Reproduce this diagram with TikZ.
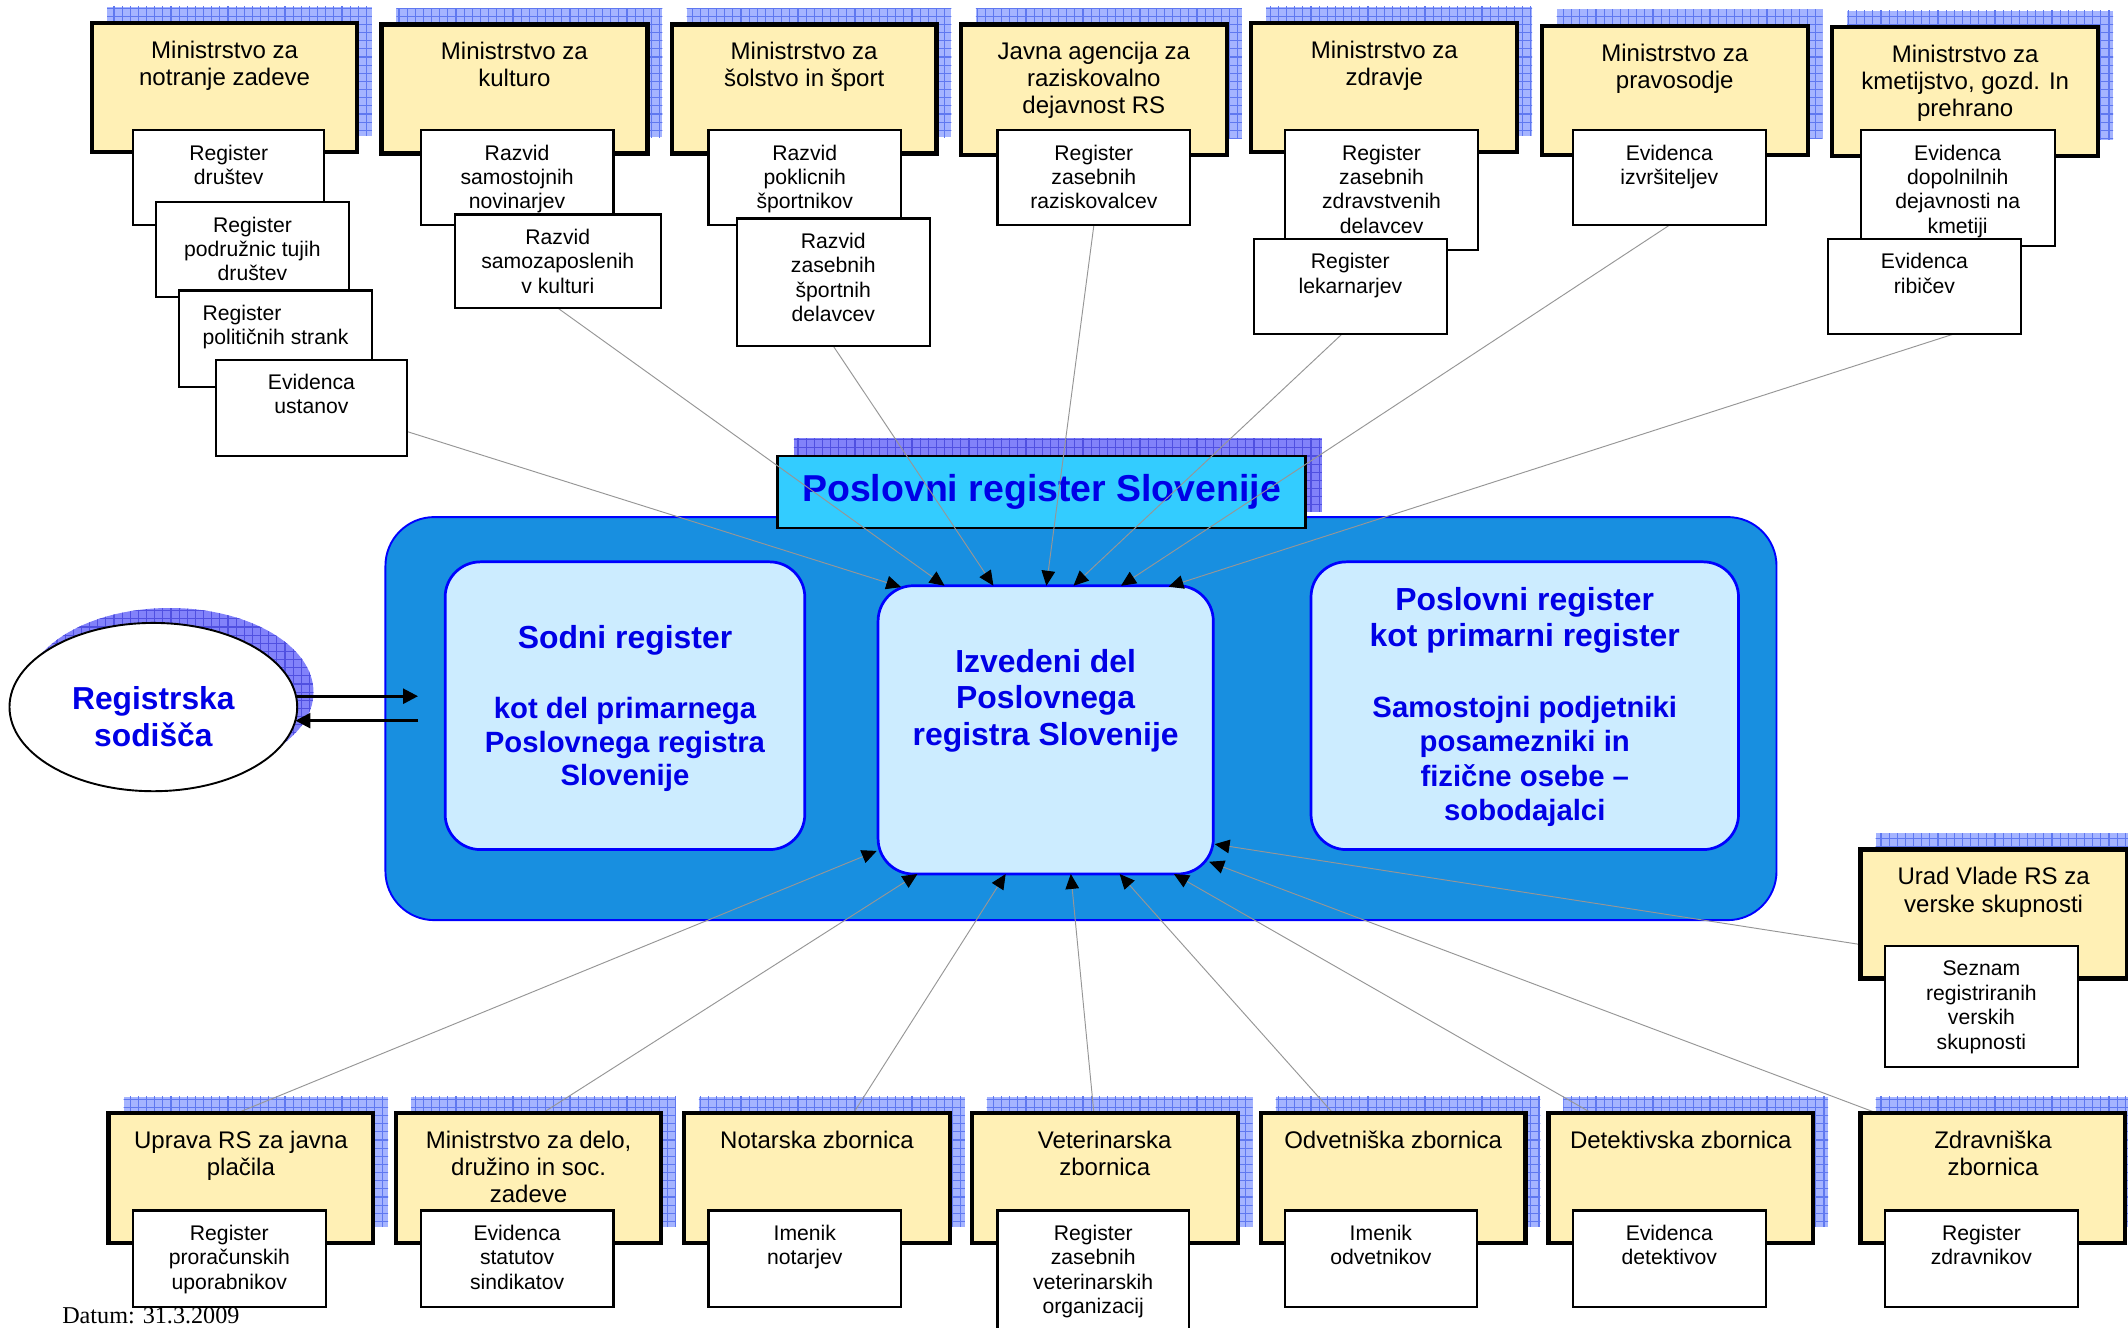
\documentclass[tikz,border=0pt]{standalone}
\usepackage{fontspec}
\setmainfont{Liberation Sans}
\newfontfamily\datefont{Liberation Serif}
\usetikzlibrary{shapes.geometric,arrows.meta,patterns,calc}
\definecolor{yfill}{RGB}{255,240,181}
\definecolor{shfill}{RGB}{165,180,255}
\definecolor{shgrid}{RGB}{95,120,240}
\definecolor{shfillB}{RGB}{130,130,250}
\definecolor{shgridB}{RGB}{80,80,225}
\definecolor{bigblue}{RGB}{24,143,224}
\definecolor{innerfill}{RGB}{204,236,255}
\definecolor{titlefill}{RGB}{51,204,255}
\definecolor{bordblue}{RGB}{0,0,255}
\definecolor{txtblue}{RGB}{0,0,230}
\definecolor{conngray}{RGB}{150,150,150}
\pgfdeclarelayer{back}
\pgfdeclarelayer{mid}
\pgfsetlayers{back,mid,main}
\tikzset{
  orgshadow/.style={preaction={fill=shfill},pattern=grid,pattern color=shgrid},
  bigshadow/.style={preaction={fill=shfillB},pattern=grid,pattern color=shgridB},
  ybox/.style={draw=black,line width=1.6pt,fill=yfill,inner sep=0pt,outer sep=0pt,
    font=\fontsize{8.85pt}{10pt}\selectfont},
  sbox/.style={draw=black,line width=0.8pt,fill=white,inner sep=0pt,outer sep=0pt,
    font=\fontsize{7.8pt}{9pt}\selectfont},
  bigbox/.style={draw=bordblue,line width=0.7pt,fill=bigblue,rounded corners=18pt,
    inner sep=0pt,outer sep=0pt,minimum width=512.5pt,minimum height=148.5pt},
  innerbox/.style={draw=bordblue,line width=1pt,fill=innerfill,rounded corners=13pt,
    inner sep=0pt,outer sep=0pt,text=txtblue,font=\bfseries},
  titlebox/.style={draw=black,line width=1pt,fill=titlefill,inner sep=0pt,outer sep=0pt,
    minimum width=194.5pt,minimum height=26.5pt,text=txtblue,
    font=\bfseries\fontsize{13.8pt}{15pt}\selectfont},
  rsell/.style={draw=black,line width=0.7pt,fill=white,ellipse,inner sep=0pt,
    minimum width=106pt,minimum height=62pt},
  rstext/.style={align=center,text=txtblue,inner sep=0pt,
    font=\bfseries\fontsize{11.7pt}{13.75pt}\selectfont},
  conn/.style={draw=conngray,line width=0.35pt,
    -{Triangle[length=5.5pt,width=5pt,color=black]}},
  thickarrow/.style={draw=black,line width=1pt,-{Triangle[length=5.5pt,width=5.5pt]}},
  datestyle/.style={inner sep=0pt,font=\datefont\fontsize{8.9pt}{10pt}\selectfont}
}
\newcommand\OrgBox[6]{%
  \begin{pgfonlayer}{back}
    \path[orgshadow] (#2+11,#3-12) rectangle (#4+11,#5-12);
  \end{pgfonlayer}
  \node[ybox] (#1) at ({(#2+#4)/2},{(#3+#5)/2})
   {\begin{minipage}[c][\dimexpr(#5pt-#3pt)/2\relax][t]{\dimexpr(#4pt-#2pt)/2\relax}\centering\vspace*{6pt}\strut #6\end{minipage}};
}
\newcommand\SubBox[6]{%
  \node[sbox] (#1) at ({(#2+#4)/2},{(#3+#5)/2})
   {\begin{minipage}[c][\dimexpr(#5pt-#3pt)/2\relax][t]{\dimexpr(#4pt-#2pt)/2\relax}\centering\vspace*{4.7pt}\strut #6\end{minipage}};
}
\begin{document}
\begin{tikzpicture}[x=0.5pt,y=-0.5pt]
\useasboundingbox (0,0) rectangle (1568,978);

\begin{pgfonlayer}{back}
  \node[bigbox] (prs) at (796.5,529.5) {};
  \node[innerbox] (sodni) at (460.5,520)
   {\begin{minipage}[c][106pt][t]{132.5pt}\centering\vspace*{23.2pt}{\fontsize{11.75pt}{12.4pt}\selectfont\strut Sodni register\par}\vspace{13.4pt}{\fontsize{10.8pt}{12.4pt}\selectfont kot del primarnega\\Poslovnega registra\\Slovenije\par}\end{minipage}};
  \node[innerbox] (izv) at (770.5,537.8)
   {\begin{minipage}[c][106.2pt][t]{123.5pt}\centering\vspace*{22.6pt}{\fontsize{11.75pt}{13.4pt}\selectfont\strut Izvedeni del\\Poslovnega\\registra Slovenije\par}\end{minipage}};
  \node[innerbox] (pkp) at (1123.5,520)
   {\begin{minipage}[c][106pt][t]{157.5pt}\centering\vspace*{8.3pt}{\fontsize{11.75pt}{13.5pt}\selectfont\strut Poslovni register\\kot primarni register\par}\vspace{13.3pt}{\fontsize{10.8pt}{12.7pt}\selectfont Samostojni podjetniki\\posamezniki in\\fizične osebe –\\sobodajalci\par}\end{minipage}};
  \path[bigshadow] (585,323) rectangle (974,377);
  \node[titlebox] (title) at (767.5,362.5) {Poslovni register Slovenije};
  \path[bigshadow] (125,510) ellipse [x radius=53pt,y radius=31pt];
  \node[rsell] (rs) at (113,521) {};
  \node[rstext] (rslbl) at (113,528) {Registrska\\sodišča};
\end{pgfonlayer}

% top row
\OrgBox{Y1}{68}{17}{263}{112}{Ministrstvo za\\notranje zadeve}
\SubBox{S1a}{98}{96}{239}{166}{Register\\društev}
\SubBox{S1b}{115}{149}{257}{219}{Register\\podružnic tujih\\društev}
\SubBox{S1c}{132}{214}{274}{285}{\begin{tabular}[t]{@{}l@{}}Register\\političnih strank\end{tabular}}
\SubBox{S1d}{159}{265}{300}{336}{Evidenca\\ustanov}
\OrgBox{Y2}{281}{18}{477}{113}{Ministrstvo za\\kulturo}
\SubBox{S2a}{310}{96}{452}{166}{Razvid\\samostojnih\\novinarjev}
\SubBox{S2b}{335}{158}{487}{227}{Razvid\\samozaposlenih\\v kulturi}
\OrgBox{Y3}{495}{18}{690}{113}{Ministrstvo za\\šolstvo in šport}
\SubBox{S3a}{522}{96}{664}{166}{Razvid\\poklicnih\\športnikov}
\SubBox{S3b}{543}{161}{685}{255}{Razvid\\zasebnih\\športnih\\delavcev}
\OrgBox{Y4}{708}{18}{904}{114}{Javna agencija za\\raziskovalno\\dejavnost RS}
\SubBox{S4a}{735}{96}{877}{166}{Register\\zasebnih\\raziskovalcev}
\OrgBox{Y5}{922}{17}{1118}{112}{Ministrstvo za\\zdravje}
\SubBox{S5a}{947}{96}{1089}{184}{Register\\zasebnih\\zdravstvenih\\delavcev}
\SubBox{S5b}{924}{176}{1066}{246}{Register\\lekarnarjev}
\OrgBox{Y6}{1136}{19}{1332}{114}{Ministrstvo za\\pravosodje}
\SubBox{S6a}{1159}{96}{1301}{166}{Evidenca\\izvršiteljev}
\OrgBox{Y7}{1350}{20}{1546}{115}{Ministrstvo za\\kmetijstvo, gozd. In\\prehrano}
\SubBox{S7a}{1371}{96}{1514}{181}{Evidenca\\dopolnilnih\\dejavnosti na\\kmetiji}
\SubBox{S7b}{1347}{176}{1489}{246}{Evidenca\\ribičev}

% right
\OrgBox{U1}{1371}{626}{1567}{721}{Urad Vlade RS za\\verske skupnosti}
\SubBox{U1s}{1389}{697}{1531}{786}{Seznam\\registriranih\\verskih\\skupnosti}

% bottom row
\OrgBox{B1}{80}{820}{275}{916}{Uprava RS za javna\\plačila}
\SubBox{B1s}{98}{892}{240}{963}{Register\\proračunskih\\uporabnikov}
\OrgBox{B2}{292}{820}{487}{916}{Ministrstvo za delo,\\družino in soc.\\zadeve}
\SubBox{B2s}{310}{892}{452}{963}{Evidenca\\statutov\\sindikatov}
\OrgBox{B3}{504}{820}{700}{916}{Notarska zbornica}
\SubBox{B3s}{522}{892}{664}{963}{Imenik\\notarjev}
\OrgBox{B4}{716}{820}{912}{916}{Veterinarska\\zbornica}
\SubBox{B4s}{735}{892}{876}{990}{Register\\zasebnih\\veterinarskih\\organizacij}
\OrgBox{B5}{929}{820}{1124}{916}{Odvetniška zbornica}
\SubBox{B5s}{947}{892}{1088}{963}{Imenik\\odvetnikov}
\OrgBox{B6}{1141}{820}{1336}{916}{Detektivska zbornica}
\SubBox{B6s}{1159}{892}{1301}{963}{Evidenca\\detektivov}
\OrgBox{B7}{1371}{820}{1566}{916}{Zdravniška\\zbornica}
\SubBox{B7s}{1389}{892}{1531}{963}{Register\\zdravnikov}

\node[datestyle,anchor=base west] (datum) at (45.5,975.5) {Datum: 31.3.2009};

% arrow end points on the derived register
\coordinate (t1) at (664,432.6);
\coordinate (t2) at (696,431.6);
\coordinate (t3) at (732,431.6);
\coordinate (t4) at (771,431.6);
\coordinate (t5) at (791,431.6);
\coordinate (t6) at (826,431.6);
\coordinate (t7) at (861,432.3);
\coordinate (ba) at (646,627);
\coordinate (bb) at (676,644);
\coordinate (bc) at (741,644);
\coordinate (bd) at (789,644);
\coordinate (be) at (825,644);
\coordinate (bf) at (865,644);
\coordinate (bg) at (891,635);
\coordinate (bh) at (895,622);
\coordinate (rin1) at ($(prs.west)+(24,-16.5)$);
\coordinate (rin2) at ($(prs.west)+(24,1.5)$);

\begin{pgfonlayer}{mid}
  \draw[conn] ($(S1d.east)+(0,17.5)$) -- (t1);
  \draw[conn] (S2b.south) -- (t2);
  \draw[conn] (S3b.south) -- (t3);
  \draw[conn] (S4a.south) -- (t4);
  \draw[conn] ($(S5b.south)+(-6,0)$) -- (t5);
  \draw[conn] (S6a.south) -- (t6);
  \draw[conn] ($(S7b.south)+(22,0)$) -- (t7);
  \draw[conn] ($(B1.north)+(-2.5,0)$) -- (ba);
  \draw[conn] ($(B2.north)+(10.5,0)$) -- (bb);
  \draw[conn] ($(B3.north)+(27,0)$) -- (bc);
  \draw[conn] ($(B4.north)+(-8,0)$) -- (bd);
  \draw[conn] ($(B5.north)+(-44.5,0)$) -- (be);
  \draw[conn] ($(B6.north)+(-66,0)$) -- (bf);
  \draw[conn] ($(B7.north)+(-86,0)$) -- (bg);
  \draw[conn] ($(U1.west)+(0,22.5)$) -- (bh);
  \draw[thickarrow] ($(rs.east)+(-1,-8)$) -- (rin1);
  \draw[thickarrow] (rin2) -- ($(rs.east)+(-2,10)$);
\end{pgfonlayer}
\end{tikzpicture}
\end{document}
